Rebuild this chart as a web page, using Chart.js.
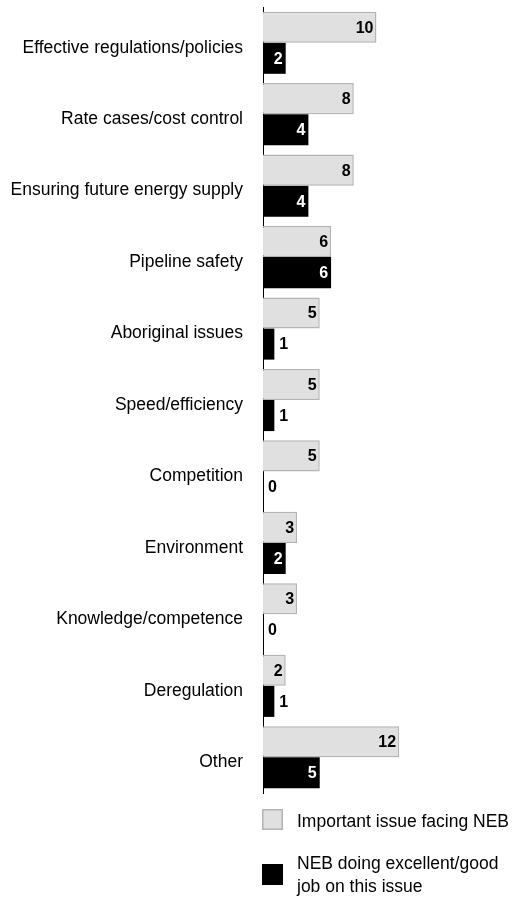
<!DOCTYPE html>
<html>
<head>
<meta charset="utf-8">
<script src="https://cdn.jsdelivr.net/npm/chart.js@4"></script>
<style>
  body { margin: 0; background: #fff; }
  #wrap { width: 513px; height: 900px; }
</style>
</head>
<body>
<div id="wrap"><canvas id="issues-chart" width="513" height="900"></canvas></div>
<script>
// Issues facing the NEB vs. how well it is doing on them
const categories = [
    'Effective regulations/policies',
    'Rate cases/cost control',
    'Ensuring future energy supply',
    'Pipeline safety',
    'Aboriginal issues',
    'Speed/efficiency',
    'Competition',
    'Environment',
    'Knowledge/competence',
    'Deregulation',
    'Other',
];
const importantValues = [10, 8, 8, 6, 5, 5, 5, 3, 3, 2, 12];
const doingWellValues = [2, 4, 4, 6, 1, 1, 0, 2, 0, 1, 5];
const seriesLabels = ['Important issue facing NEB', ['NEB doing excellent/good', 'job on this issue']];

const FONT = '"Liberation Sans", Arial, sans-serif';
const AXIS_X = 263;

// value labels at the end of each bar
const valueLabels = {
    id: 'valueLabels',
    afterDatasetsDraw(chart) {
        const ctx = chart.ctx;
        ctx.save();
        ctx.font = 'bold 16px ' + FONT;
        ctx.textBaseline = 'middle';
        chart.data.datasets.forEach((ds, di) => {
            chart.getDatasetMeta(di).data.forEach((bar, i) => {
                const v = ds.data[i];
                const w = bar.x - bar.base;
                if (w > 20) {
                    ctx.textAlign = 'right';
                    ctx.fillStyle = di === 0 ? '#000' : '#fff';
                    ctx.fillText(v, bar.x - 3, bar.y + 1);
                } else {
                    ctx.textAlign = 'left';
                    ctx.fillStyle = '#000';
                    ctx.fillText(v, bar.x + 5, bar.y + 1);
                }
            });
        });
        ctx.restore();
    }
};

// legend drawn under the bars
const bottomLegend = {
    id: 'bottomLegend',
    afterDraw(chart) {
        const ctx = chart.ctx;
        const x = chart.chartArea.left - 1;
        ctx.save();
        ctx.font = '17.5px ' + FONT;
        ctx.textBaseline = 'middle';
        ctx.textAlign = 'left';
        // grey box
        ctx.fillStyle = '#e0e0e0';
        ctx.fillRect(x, 809, 21, 21);
        ctx.strokeStyle = '#b3b3b3';
        ctx.lineWidth = 1.5;
        ctx.strokeRect(x + 0.75, 809.75, 19.5, 19.5);
        ctx.fillStyle = '#000';
        ctx.fillText(seriesLabels[0], x + 35, 822);
        // black box
        ctx.fillRect(x, 864, 21, 21);
        ctx.fillText(seriesLabels[1][0], x + 35, 864);
        ctx.fillText(seriesLabels[1][1], x + 35, 887);
        ctx.restore();
    }
};

new Chart(document.getElementById('issues-chart'), {
    type: 'bar',
    data: {
        labels: categories,
        datasets: [{
            label: 'Important issue facing NEB',
            data: importantValues,
            backgroundColor: '#e0e0e0',
            borderColor: '#b3b3b3',
            borderWidth: 1.5,
            borderSkipped: 'left',
        }, {
            label: 'NEB doing excellent/good job on this issue',
            data: doingWellValues,
            backgroundColor: '#000',
            borderWidth: 0,
        }]
    },
    options: {
        indexAxis: 'y',
        responsive: false,
        animation: false,
        devicePixelRatio: 1,
        layout: { padding: { top: 7, bottom: 107, left: 0, right: 14 } },
        categoryPercentage: 0.87,
        barPercentage: 1,
        plugins: {
            legend: { display: false },
            tooltip: { enabled: false },
        },
        scales: {
            x: {
                display: false,
                min: 0,
                max: 20.8,
            },
            y: {
                grid: { display: false, drawTicks: false },
                border: { display: true, color: '#000', width: 1 },
                ticks: {
                    color: '#000',
                    padding: 20,
                    labelOffset: 5,
                    font: { family: FONT, size: 17.5 },
                },
                afterFit(scale) {
                    scale.width = AXIS_X;
                    scale.paddingTop = 0;
                    scale.paddingBottom = 0;
                },
            }
        }
    },
    plugins: [valueLabels, bottomLegend]
});
</script>
</body>
</html>
